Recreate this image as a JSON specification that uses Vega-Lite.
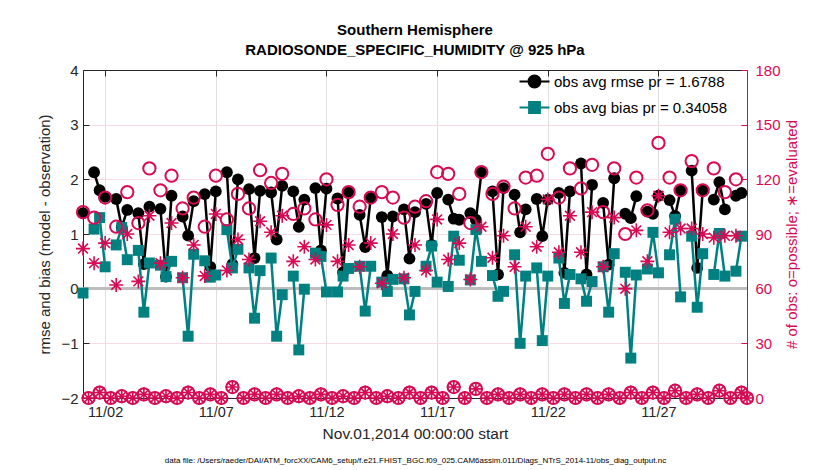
{
  "$schema": "https://vega.github.io/schema/vega-lite/v6.json",
  "width": 664,
  "height": 328,
  "autosize": {"type": "none"},
  "padding": {"left": 83, "top": 70, "right": 83, "bottom": 72},
  "background": "white",
  "config": {
    "font": "Liberation Sans",
    "view": {"stroke": null},
    "axis": {"labelFont": "Liberation Sans", "titleFont": "Liberation Sans", "titleFontWeight": "normal", "labelOverlap": false}
  },
  "title": {
    "text": ["Southern Hemisphere", "RADIOSONDE_SPECIFIC_HUMIDITY @ 925 hPa"],
    "fontSize": 15,
    "fontWeight": "bold",
    "font": "Liberation Sans",
    "color": "black",
    "anchor": "middle",
    "frame": "group",
    "offset": -10,
    "lineHeight": 20,
    "baseline": "bottom"
  },
  "data": {
    "values": [
      {"t": "2014-11-01T00:00:00Z", "r": 1.38, "b": -0.08, "p": 102, "e": 82},
      {"t": "2014-11-01T06:00:00Z", "r": null, "b": null, "p": 0, "e": 0},
      {"t": "2014-11-01T12:00:00Z", "r": 2.13, "b": 1.09, "p": 99, "e": 74},
      {"t": "2014-11-01T18:00:00Z", "r": 1.80, "b": 1.30, "p": 3, "e": 3},
      {"t": "2014-11-02T00:00:00Z", "r": 1.68, "b": 0.40, "p": 110, "e": 85},
      {"t": "2014-11-02T06:00:00Z", "r": null, "b": null, "p": 0, "e": 0},
      {"t": "2014-11-02T12:00:00Z", "r": 1.64, "b": 0.80, "p": 94, "e": 62},
      {"t": "2014-11-02T18:00:00Z", "r": 1.12, "b": 1.12, "p": 1, "e": 1},
      {"t": "2014-11-03T00:00:00Z", "r": 1.44, "b": 0.53, "p": 113, "e": 90},
      {"t": "2014-11-03T06:00:00Z", "r": null, "b": null, "p": 0, "e": 0},
      {"t": "2014-11-03T12:00:00Z", "r": 1.38, "b": 0.70, "p": 96, "e": 64},
      {"t": "2014-11-03T18:00:00Z", "r": 0.45, "b": -0.43, "p": 2, "e": 2},
      {"t": "2014-11-04T00:00:00Z", "r": 1.50, "b": 0.47, "p": 126, "e": 100},
      {"t": "2014-11-04T06:00:00Z", "r": null, "b": null, "p": 0, "e": 0},
      {"t": "2014-11-04T12:00:00Z", "r": 1.46, "b": 0.43, "p": 114, "e": 74},
      {"t": "2014-11-04T18:00:00Z", "r": 0.22, "b": 0.22, "p": 1, "e": 1},
      {"t": "2014-11-05T00:00:00Z", "r": 1.70, "b": 0.50, "p": 122, "e": 96},
      {"t": "2014-11-05T06:00:00Z", "r": null, "b": null, "p": 0, "e": 0},
      {"t": "2014-11-05T12:00:00Z", "r": 1.32, "b": 0.20, "p": 104, "e": 66},
      {"t": "2014-11-05T18:00:00Z", "r": 0.97, "b": -0.87, "p": 3, "e": 3},
      {"t": "2014-11-06T00:00:00Z", "r": 1.60, "b": 0.63, "p": 110, "e": 84},
      {"t": "2014-11-06T06:00:00Z", "r": null, "b": null, "p": 0, "e": 0},
      {"t": "2014-11-06T12:00:00Z", "r": 1.73, "b": 0.51, "p": 94, "e": 67},
      {"t": "2014-11-06T18:00:00Z", "r": 0.40, "b": 0.21, "p": 2, "e": 2},
      {"t": "2014-11-07T00:00:00Z", "r": 1.78, "b": 0.25, "p": 122, "e": 101},
      {"t": "2014-11-07T06:00:00Z", "r": null, "b": null, "p": 0, "e": 0},
      {"t": "2014-11-07T12:00:00Z", "r": 2.13, "b": 1.08, "p": 98, "e": 70},
      {"t": "2014-11-07T18:00:00Z", "r": 0.45, "b": 0.38, "p": 6, "e": 6},
      {"t": "2014-11-08T00:00:00Z", "r": 2.00, "b": 0.72, "p": 112, "e": 87},
      {"t": "2014-11-08T06:00:00Z", "r": null, "b": null, "p": 0, "e": 0},
      {"t": "2014-11-08T12:00:00Z", "r": 1.82, "b": 0.38, "p": 104, "e": 76},
      {"t": "2014-11-08T18:00:00Z", "r": 0.56, "b": -0.54, "p": 2, "e": 2},
      {"t": "2014-11-09T00:00:00Z", "r": 1.79, "b": 0.33, "p": 125, "e": 97},
      {"t": "2014-11-09T06:00:00Z", "r": null, "b": null, "p": 0, "e": 0},
      {"t": "2014-11-09T12:00:00Z", "r": 1.76, "b": 0.56, "p": 118, "e": 91},
      {"t": "2014-11-09T18:00:00Z", "r": 0.90, "b": -0.87, "p": 2, "e": 2},
      {"t": "2014-11-10T00:00:00Z", "r": 1.88, "b": -0.11, "p": 123, "e": 100},
      {"t": "2014-11-10T06:00:00Z", "r": null, "b": null, "p": 0, "e": 0},
      {"t": "2014-11-10T12:00:00Z", "r": 1.78, "b": 0.23, "p": 101, "e": 75},
      {"t": "2014-11-10T18:00:00Z", "r": 1.13, "b": -1.12, "p": 1, "e": 1},
      {"t": "2014-11-11T00:00:00Z", "r": 1.63, "b": -0.01, "p": 104, "e": 83},
      {"t": "2014-11-11T06:00:00Z", "r": null, "b": null, "p": 0, "e": 0},
      {"t": "2014-11-11T12:00:00Z", "r": 1.84, "b": 0.65, "p": 98, "e": 76},
      {"t": "2014-11-11T18:00:00Z", "r": 0.70, "b": 0.59, "p": 2, "e": 2},
      {"t": "2014-11-12T00:00:00Z", "r": 1.83, "b": -0.06, "p": 120, "e": 95},
      {"t": "2014-11-12T06:00:00Z", "r": null, "b": null, "p": 0, "e": 0},
      {"t": "2014-11-12T12:00:00Z", "r": 1.65, "b": -0.06, "p": 106, "e": 75},
      {"t": "2014-11-12T18:00:00Z", "r": 0.30, "b": 0.23, "p": 1, "e": 1},
      {"t": "2014-11-13T00:00:00Z", "r": 1.77, "b": 0.37, "p": 113, "e": 84},
      {"t": "2014-11-13T06:00:00Z", "r": null, "b": null, "p": 0, "e": 0},
      {"t": "2014-11-13T12:00:00Z", "r": 1.35, "b": 0.41, "p": 105, "e": 72},
      {"t": "2014-11-13T18:00:00Z", "r": 0.76, "b": -0.41, "p": 3, "e": 3},
      {"t": "2014-11-14T00:00:00Z", "r": 1.66, "b": 0.41, "p": 110, "e": 85},
      {"t": "2014-11-14T06:00:00Z", "r": null, "b": null, "p": 0, "e": 0},
      {"t": "2014-11-14T12:00:00Z", "r": 1.31, "b": 0.12, "p": 113, "e": 63},
      {"t": "2014-11-14T18:00:00Z", "r": 0.24, "b": -0.05, "p": 1, "e": 1},
      {"t": "2014-11-15T00:00:00Z", "r": 1.32, "b": 0.17, "p": 110, "e": 90},
      {"t": "2014-11-15T06:00:00Z", "r": null, "b": null, "p": 0, "e": 0},
      {"t": "2014-11-15T12:00:00Z", "r": 1.45, "b": 0.18, "p": 99, "e": 66},
      {"t": "2014-11-15T18:00:00Z", "r": 0.55, "b": -0.48, "p": 3, "e": 3},
      {"t": "2014-11-16T00:00:00Z", "r": 1.40, "b": -0.05, "p": 105, "e": 84},
      {"t": "2014-11-16T06:00:00Z", "r": null, "b": null, "p": 0, "e": 0},
      {"t": "2014-11-16T12:00:00Z", "r": 1.55, "b": 0.41, "p": 108, "e": 70},
      {"t": "2014-11-16T18:00:00Z", "r": 0.80, "b": 0.78, "p": 3, "e": 3},
      {"t": "2014-11-17T00:00:00Z", "r": 1.75, "b": 0.12, "p": 124, "e": 98},
      {"t": "2014-11-17T06:00:00Z", "r": null, "b": null, "p": 0, "e": 0},
      {"t": "2014-11-17T12:00:00Z", "r": 1.63, "b": 0.04, "p": 123, "e": 76},
      {"t": "2014-11-17T18:00:00Z", "r": 1.28, "b": 0.96, "p": 6, "e": 6},
      {"t": "2014-11-18T00:00:00Z", "r": 1.26, "b": 0.52, "p": 112, "e": 85},
      {"t": "2014-11-18T06:00:00Z", "r": null, "b": null, "p": 0, "e": 0},
      {"t": "2014-11-18T12:00:00Z", "r": 1.38, "b": 0.16, "p": 96, "e": 65},
      {"t": "2014-11-18T18:00:00Z", "r": 1.26, "b": 1.08, "p": 5, "e": 5},
      {"t": "2014-11-19T00:00:00Z", "r": 2.12, "b": 0.50, "p": 124, "e": 94},
      {"t": "2014-11-19T06:00:00Z", "r": null, "b": null, "p": 0, "e": 0},
      {"t": "2014-11-19T12:00:00Z", "r": 1.78, "b": 0.24, "p": 112, "e": 77},
      {"t": "2014-11-19T18:00:00Z", "r": 0.26, "b": -0.14, "p": 2, "e": 2},
      {"t": "2014-11-20T00:00:00Z", "r": 1.84, "b": -0.05, "p": 116, "e": 89},
      {"t": "2014-11-20T06:00:00Z", "r": null, "b": null, "p": 0, "e": 0},
      {"t": "2014-11-20T12:00:00Z", "r": 1.72, "b": 0.62, "p": 104, "e": 72},
      {"t": "2014-11-20T18:00:00Z", "r": 1.03, "b": -1.00, "p": 2, "e": 2},
      {"t": "2014-11-21T00:00:00Z", "r": 1.45, "b": 0.23, "p": 121, "e": 94},
      {"t": "2014-11-21T06:00:00Z", "r": null, "b": null, "p": 0, "e": 0},
      {"t": "2014-11-21T12:00:00Z", "r": 1.64, "b": 0.38, "p": 122, "e": 83},
      {"t": "2014-11-21T18:00:00Z", "r": 0.96, "b": -0.95, "p": 2, "e": 2},
      {"t": "2014-11-22T00:00:00Z", "r": 1.63, "b": 0.23, "p": 134, "e": 109},
      {"t": "2014-11-22T06:00:00Z", "r": null, "b": null, "p": 0, "e": 0},
      {"t": "2014-11-22T12:00:00Z", "r": 1.75, "b": 0.56, "p": 110, "e": 80},
      {"t": "2014-11-22T18:00:00Z", "r": 0.29, "b": -0.27, "p": 2, "e": 2},
      {"t": "2014-11-23T00:00:00Z", "r": 1.78, "b": 0.26, "p": 126, "e": 100},
      {"t": "2014-11-23T06:00:00Z", "r": null, "b": null, "p": 0, "e": 0},
      {"t": "2014-11-23T12:00:00Z", "r": 2.29, "b": 0.18, "p": 115, "e": 80},
      {"t": "2014-11-23T18:00:00Z", "r": 0.26, "b": -0.23, "p": 2, "e": 2},
      {"t": "2014-11-24T00:00:00Z", "r": 1.90, "b": 0.13, "p": 128, "e": 102},
      {"t": "2014-11-24T06:00:00Z", "r": null, "b": null, "p": 0, "e": 0},
      {"t": "2014-11-24T12:00:00Z", "r": 1.57, "b": 0.40, "p": 102, "e": 72},
      {"t": "2014-11-24T18:00:00Z", "r": 0.44, "b": -0.43, "p": 2, "e": 2},
      {"t": "2014-11-25T00:00:00Z", "r": 2.02, "b": 0.64, "p": 126, "e": 99},
      {"t": "2014-11-25T06:00:00Z", "r": null, "b": null, "p": 0, "e": 0},
      {"t": "2014-11-25T12:00:00Z", "r": 1.37, "b": 0.30, "p": 90, "e": 60},
      {"t": "2014-11-25T18:00:00Z", "r": 1.29, "b": -1.27, "p": 3, "e": 3},
      {"t": "2014-11-26T00:00:00Z", "r": 1.69, "b": 0.25, "p": 121, "e": 92},
      {"t": "2014-11-26T06:00:00Z", "r": null, "b": null, "p": 0, "e": 0},
      {"t": "2014-11-26T12:00:00Z", "r": 1.41, "b": 0.36, "p": 103, "e": 75},
      {"t": "2014-11-26T18:00:00Z", "r": 1.37, "b": 1.03, "p": 3, "e": 3},
      {"t": "2014-11-27T00:00:00Z", "r": 1.70, "b": 0.29, "p": 140, "e": 111},
      {"t": "2014-11-27T06:00:00Z", "r": null, "b": null, "p": 0, "e": 0},
      {"t": "2014-11-27T12:00:00Z", "r": 1.62, "b": 0.62, "p": 121, "e": 91},
      {"t": "2014-11-27T18:00:00Z", "r": 1.33, "b": 1.27, "p": 4, "e": 4},
      {"t": "2014-11-28T00:00:00Z", "r": 1.80, "b": -0.15, "p": 114, "e": 93},
      {"t": "2014-11-28T06:00:00Z", "r": null, "b": null, "p": 0, "e": 0},
      {"t": "2014-11-28T12:00:00Z", "r": 2.16, "b": 0.96, "p": 130, "e": 93},
      {"t": "2014-11-28T18:00:00Z", "r": 0.38, "b": -0.34, "p": 2, "e": 2},
      {"t": "2014-11-29T00:00:00Z", "r": 1.81, "b": 0.64, "p": 114, "e": 90},
      {"t": "2014-11-29T06:00:00Z", "r": null, "b": null, "p": 0, "e": 0},
      {"t": "2014-11-29T12:00:00Z", "r": 1.63, "b": 0.26, "p": 126, "e": 88},
      {"t": "2014-11-29T18:00:00Z", "r": 1.95, "b": 1.01, "p": 4, "e": 4},
      {"t": "2014-11-30T00:00:00Z", "r": 1.45, "b": 0.23, "p": 113, "e": 89},
      {"t": "2014-11-30T06:00:00Z", "r": null, "b": null, "p": 0, "e": 0},
      {"t": "2014-11-30T12:00:00Z", "r": 1.70, "b": 0.32, "p": 120, "e": 89},
      {"t": "2014-11-30T18:00:00Z", "r": 1.75, "b": 0.96, "p": 3, "e": 3},
      {"t": "2014-12-01T00:00:00Z", "r": null, "b": null, "p": 0, "e": 0}
    ]
  },
  "layer": [
    {
      "mark": {"type": "rule", "color": "#BDBDBD", "strokeWidth": 2.5},
      "encoding": {
        "y": {"datum": 0, "type": "quantitative", "scale": {"domain": [-2, 4], "nice": false}, "axis": null}
      }
    },
    {
      "mark": {"type": "line", "color": "black", "strokeWidth": 2.5, "invalid": "break-paths-show-domains"},
      "encoding": {
        "x": {
          "field": "t", "type": "temporal",
          "scale": {"type": "utc", "domain": [{"year": 2014, "month": 11, "date": 1, "utc": true}, {"year": 2014, "month": 12, "date": 1, "utc": true}], "nice": false},
          "axis": {
            "orient": "bottom",
            "values": [{"year": 2014, "month": 11, "date": 2, "utc": true}, {"year": 2014, "month": 11, "date": 7, "utc": true}, {"year": 2014, "month": 11, "date": 12, "utc": true}, {"year": 2014, "month": 11, "date": 17, "utc": true}, {"year": 2014, "month": 11, "date": 22, "utc": true}, {"year": 2014, "month": 11, "date": 27, "utc": true}],
            "format": "%m/%d",
            "labelFontSize": 14.5, "labelColor": "#262626", "labelFlush": false,
            "domainColor": "#262626", "domainWidth": 1,
            "tickColor": "#262626", "tickSize": -6, "labelPadding": 13,
            "grid": true, "gridColor": "#DEDEDE", "gridWidth": 1,
            "title": "Nov.01,2014 00:00:00 start", "titleFontSize": 15.5, "titleColor": "#262626", "titlePadding": 8
          }
        },
        "y": {
          "field": "r", "type": "quantitative",
          "scale": {"domain": [-2, 4], "nice": false},
          "axis": {
            "orient": "left",
            "values": [-2, -1, 0, 1, 2, 3, 4],
            "labelFontSize": 15, "labelColor": "#262626", "labelFlush": false,
            "domainColor": "#262626", "tickColor": "#262626", "tickSize": -6, "labelPadding": 11,
            "grid": false,
            "title": "rmse and bias (model - observation)", "titleFontSize": 15, "titleColor": "#262626", "titlePadding": 8
          }
        }
      }
    },
    {
      "mark": {"type": "point", "shape": "circle", "filled": true, "color": "black", "opacity": 1, "size": 140},
      "encoding": {
        "x": {"field": "t", "type": "temporal", "scale": {"type": "utc", "domain": [{"year": 2014, "month": 11, "date": 1, "utc": true}, {"year": 2014, "month": 12, "date": 1, "utc": true}], "nice": false}, "axis": null},
        "y": {"field": "r", "type": "quantitative", "scale": {"domain": [-2, 4], "nice": false}, "axis": null}
      }
    },
    {
      "mark": {"type": "line", "color": "#008080", "strokeWidth": 2.5, "invalid": "break-paths-show-domains"},
      "encoding": {
        "x": {"field": "t", "type": "temporal", "scale": {"type": "utc", "domain": [{"year": 2014, "month": 11, "date": 1, "utc": true}, {"year": 2014, "month": 12, "date": 1, "utc": true}], "nice": false}, "axis": null},
        "y": {"field": "b", "type": "quantitative", "scale": {"domain": [-2, 4], "nice": false}, "axis": null}
      }
    },
    {
      "mark": {"type": "point", "shape": "square", "filled": true, "color": "#008080", "opacity": 1, "size": 120},
      "encoding": {
        "x": {"field": "t", "type": "temporal", "scale": {"type": "utc", "domain": [{"year": 2014, "month": 11, "date": 1, "utc": true}, {"year": 2014, "month": 12, "date": 1, "utc": true}], "nice": false}, "axis": null},
        "y": {"field": "b", "type": "quantitative", "scale": {"domain": [-2, 4], "nice": false}, "axis": null}
      }
    },
    {
      "mark": {"type": "point", "shape": "circle", "filled": false, "color": "#D70A53", "strokeWidth": 2, "opacity": 1, "size": 150},
      "encoding": {
        "x": {
          "field": "t", "type": "temporal",
          "scale": {"type": "utc", "domain": [{"year": 2014, "month": 11, "date": 1, "utc": true}, {"year": 2014, "month": 12, "date": 1, "utc": true}], "nice": false},
          "axis": {
            "orient": "top",
            "values": [{"year": 2014, "month": 11, "date": 2, "utc": true}, {"year": 2014, "month": 11, "date": 7, "utc": true}, {"year": 2014, "month": 11, "date": 12, "utc": true}, {"year": 2014, "month": 11, "date": 17, "utc": true}, {"year": 2014, "month": 11, "date": 22, "utc": true}, {"year": 2014, "month": 11, "date": 27, "utc": true}],
            "labels": false, "tickSize": -6, "tickColor": "#262626", "domainColor": "#262626", "grid": false, "title": null
          }
        },
        "y": {
          "field": "p", "type": "quantitative",
          "scale": {"domain": [0, 180], "nice": false},
          "axis": {
            "orient": "right",
            "values": [0, 30, 60, 90, 120, 150, 180],
            "labelFontSize": 15, "labelColor": "#D70A53", "labelFlush": false,
            "domainColor": "#D70A53", "tickColor": "#D70A53", "tickSize": -6, "labelPadding": 14,
            "grid": true, "gridColor": "#F9DAE5", "gridWidth": 1,
            "title": "# of obs: o=possible; ∗=evaluated", "titleFontSize": 15, "titleColor": "#D70A53",
            "titleAngle": 270, "titleBaseline": "top", "titlePadding": 4
          }
        }
      }
    },
    {
      "mark": {"type": "point", "shape": "M-1,0H1M0,-1V1M-0.7,-0.7L0.7,0.7M-0.7,0.7L0.7,-0.7", "filled": false, "color": "#D70A53", "strokeWidth": 1.6, "opacity": 1, "size": 196},
      "encoding": {
        "x": {"field": "t", "type": "temporal", "scale": {"type": "utc", "domain": [{"year": 2014, "month": 11, "date": 1, "utc": true}, {"year": 2014, "month": 12, "date": 1, "utc": true}], "nice": false}, "axis": null},
        "y": {"field": "e", "type": "quantitative", "scale": {"domain": [0, 180], "nice": false}, "axis": null}
      }
    },
    {
      "transform": [{"filter": "datum.r > 99"}],
      "mark": {"type": "point", "filled": true, "opacity": 1, "strokeWidth": 2},
      "encoding": {
        "x": {
          "field": "t", "type": "temporal",
          "scale": {"type": "utc", "domain": [{"year": 2014, "month": 11, "date": 1, "utc": true}, {"year": 2014, "month": 12, "date": 1, "utc": true}], "nice": false},
          "axis": {
            "orient": "bottom", "labels": false, "ticks": false, "domain": false, "grid": false,
            "title": "data file: /Users/raeder/DAI/ATM_forcXX/CAM6_setup/f.e21.FHIST_BGC.f09_025.CAM6assim.011/Diags_NTrS_2014-11/obs_diag_output.nc",
            "titleFontSize": 8, "titleColor": "black", "titlePadding": 58
          }
        },
        "shape": {
          "field": "s", "type": "nominal",
          "scale": {"domain": ["rmse", "bias"], "range": ["M-2.5,0H2.5M-1,0A1,1,0,1,0,1,0A1,1,0,1,0,-1,0Z", "M-2.5,0H2.5M-0.9,-0.9H0.9V0.9H-0.9Z"]},
          "legend": {
            "title": null, "orient": "none", "legendX": 444, "legendY": 4, "direction": "vertical",
            "labelExpr": "datum.value == 'rmse' ? 'obs avg rmse pr = 1.6788' : 'obs avg bias pr = 0.34058'",
            "labelFontSize": 15, "labelFont": "Liberation Sans", "labelColor": "black", "labelOffset": 12, "labelLimit": 0,
            "symbolSize": 144, "symbolStrokeWidth": 2, "rowPadding": 6, "padding": 0
          }
        },
        "color": {
          "field": "s", "type": "nominal",
          "scale": {"domain": ["rmse", "bias"], "range": ["black", "#008080"]},
          "legend": {
            "title": null, "orient": "none", "legendX": 444, "legendY": 4, "direction": "vertical",
            "labelExpr": "datum.value == 'rmse' ? 'obs avg rmse pr = 1.6788' : 'obs avg bias pr = 0.34058'",
            "labelFontSize": 15, "labelFont": "Liberation Sans", "labelColor": "black", "labelOffset": 12, "labelLimit": 0,
            "symbolSize": 144, "symbolStrokeWidth": 2, "rowPadding": 6, "padding": 0
          }
        },
        "stroke": {
          "field": "s", "type": "nominal",
          "scale": {"domain": ["rmse", "bias"], "range": ["black", "#008080"]},
          "legend": {
            "title": null, "orient": "none", "legendX": 444, "legendY": 4, "direction": "vertical",
            "labelExpr": "datum.value == 'rmse' ? 'obs avg rmse pr = 1.6788' : 'obs avg bias pr = 0.34058'",
            "labelFontSize": 15, "labelFont": "Liberation Sans", "labelColor": "black", "labelOffset": 12, "labelLimit": 0,
            "symbolSize": 144, "symbolStrokeWidth": 2, "rowPadding": 6, "padding": 0
          }
        }
      }
    }
  ],
  "resolve": {"scale": {"y": "independent"}, "axis": {"x": "independent", "y": "independent"}}
}
